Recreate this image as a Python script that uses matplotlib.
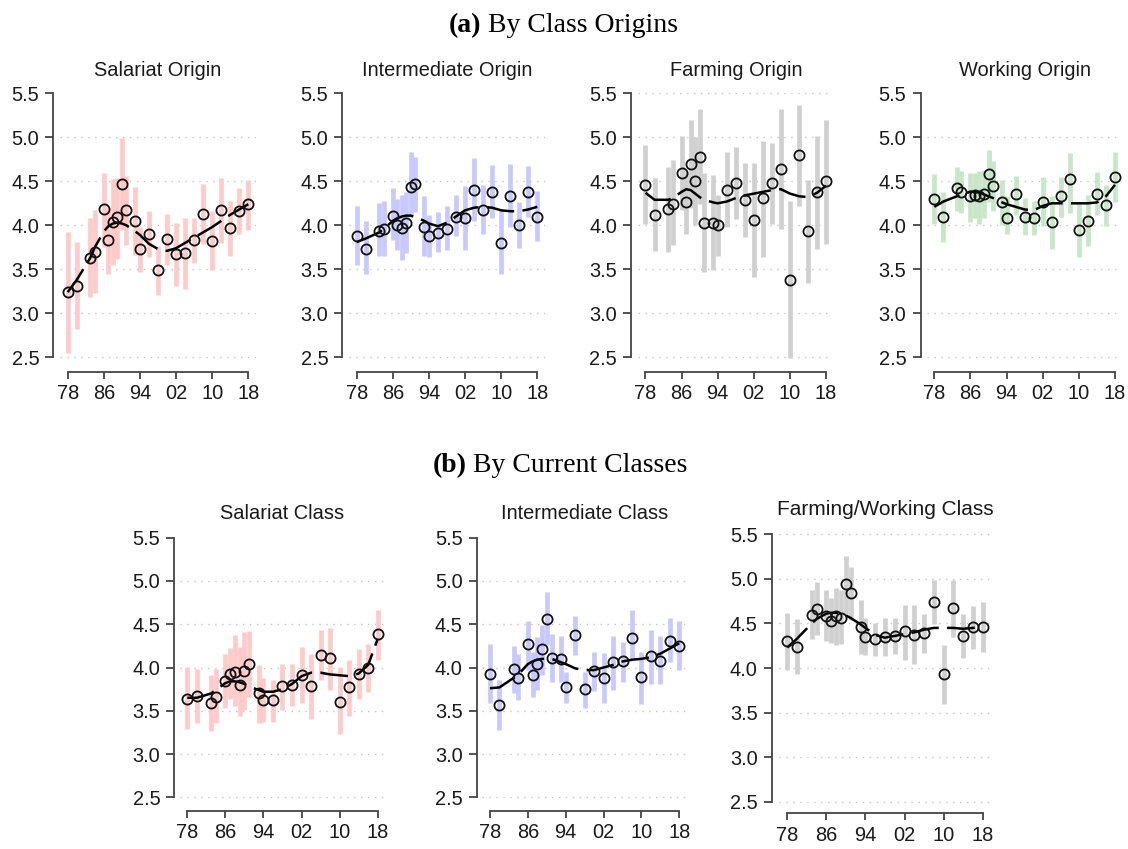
import matplotlib
matplotlib.use("Agg")
import matplotlib.pyplot as plt

plt.rcParams['font.family'] = ['Liberation Sans', 'DejaVu Sans']
plt.rcParams['lines.scale_dashes'] = False

W, H = 1128, 849

years = [1978, 1980, 1983, 1984, 1986, 1987, 1988, 1989, 1990, 1991, 1993, 1994,
         1996, 1998, 2000, 2002, 2004, 2006, 2008, 2010, 2012, 2014, 2016, 2018]
xtick_years = [1978, 1986, 1994, 2002, 2010, 2018]
xtick_labels = ['78', '86', '94', '02', '10', '18']
ytick_vals = [2.5, 3.0, 3.5, 4.0, 4.5, 5.0, 5.5]

# (a) class origins
sal_orig_mean = [3.24, 3.31, 3.63, 3.70, 4.18, 3.83, 4.04, 4.09, 4.47, 4.17, 4.05, 3.73,
                 3.90, 3.49, 3.84, 3.67, 3.68, 3.83, 4.13, 3.82, 4.17, 3.97, 4.16, 4.24]
sal_orig_lo = [2.55, 2.82, 3.18, 3.23, 3.75, 3.45, 3.55, 3.62, 3.95, 3.78, 3.66, 3.47,
               3.64, 3.21, 3.55, 3.31, 3.28, 3.57, 3.79, 3.49, 3.80, 3.65, 3.90, 3.95]
sal_orig_hi = [3.92, 3.81, 4.08, 4.17, 4.59, 4.20, 4.53, 4.54, 4.99, 4.56, 4.43, 3.98,
               4.16, 3.76, 4.13, 4.03, 4.08, 4.08, 4.47, 4.16, 4.54, 4.28, 4.42, 4.52]
sal_orig_fit = [3.24, 3.38, 3.63, 3.75, 3.93, 3.99, 4.02, 4.03, 4.02, 4.00, 3.93, 3.89,
                3.79, 3.73, 3.71, 3.74, 3.80, 3.86, 3.92, 3.98, 4.05, 4.12, 4.18, 4.24]

int_orig_mean = [3.88, 3.73, 3.94, 3.96, 4.11, 4.00, 3.97, 4.03, 4.44, 4.47, 3.98, 3.88,
                 3.91, 3.96, 4.10, 4.08, 4.40, 4.17, 4.38, 3.80, 4.33, 4.00, 4.38, 4.10]
int_orig_lo = [3.55, 3.45, 3.65, 3.65, 3.83, 3.72, 3.60, 3.68, 4.10, 4.15, 3.65, 3.64,
               3.70, 3.72, 3.88, 3.72, 4.05, 3.90, 4.08, 3.45, 3.98, 3.74, 4.10, 3.82]
int_orig_hi = [4.22, 4.05, 4.25, 4.28, 4.42, 4.30, 4.35, 4.38, 4.83, 4.78, 4.33, 4.12,
               4.15, 4.22, 4.34, 4.45, 4.76, 4.46, 4.69, 4.17, 4.70, 4.27, 4.67, 4.39]
int_orig_fit = [3.81, 3.85, 3.92, 3.96, 4.05, 4.08, 4.10, 4.11, 4.11, 4.09, 4.05, 4.02,
                3.99, 4.03, 4.10, 4.17, 4.20, 4.21, 4.20, 4.17, 4.16, 4.16, 4.18, 4.21]

farm_orig_mean = [4.46, 4.12, 4.18, 4.24, 4.60, 4.27, 4.70, 4.50, 4.78, 4.03, 4.03, 4.00,
                  4.40, 4.48, 4.29, 4.06, 4.31, 4.48, 4.64, 3.38, 4.80, 3.93, 4.38, 4.50]
farm_orig_lo = [4.02, 3.71, 3.70, 3.78, 4.17, 3.90, 4.20, 4.00, 4.24, 3.47, 3.49, 3.65,
                3.98, 4.07, 3.87, 3.41, 3.64, 4.02, 3.96, 2.49, 4.22, 3.34, 3.73, 3.79]
farm_orig_hi = [4.91, 4.54, 4.66, 4.74, 5.01, 4.62, 5.20, 5.00, 5.32, 4.59, 4.57, 4.34,
                4.83, 4.89, 4.71, 4.71, 4.96, 4.93, 5.32, 4.28, 5.37, 4.52, 5.01, 5.20]
farm_orig_fit = [4.37, 4.29, 4.29, 4.31, 4.38, 4.41, 4.40, 4.36, 4.32, 4.29, 4.26, 4.25,
                 4.27, 4.31, 4.34, 4.36, 4.38, 4.40, 4.41, 4.36, 4.33, 4.32, 4.37, 4.45]

work_orig_mean = [4.30, 4.10, 4.42, 4.38, 4.33, 4.35, 4.33, 4.36, 4.58, 4.45, 4.26, 4.08,
                  4.36, 4.10, 4.08, 4.27, 4.04, 4.33, 4.53, 3.95, 4.05, 4.36, 4.23, 4.55]
work_orig_lo = [4.01, 3.81, 4.16, 4.14, 4.04, 4.08, 4.02, 4.08, 4.27, 4.16, 4.00, 3.90,
                4.12, 3.89, 3.89, 3.99, 3.73, 4.10, 4.14, 3.64, 3.76, 4.12, 3.99, 4.27]
work_orig_hi = [4.58, 4.38, 4.66, 4.62, 4.60, 4.60, 4.62, 4.63, 4.86, 4.73, 4.52, 4.33,
                4.56, 4.31, 4.28, 4.55, 4.33, 4.55, 4.82, 4.26, 4.34, 4.61, 4.46, 4.83]
work_orig_fit = [4.21, 4.27, 4.33, 4.35, 4.38, 4.38, 4.37, 4.35, 4.33, 4.31, 4.26, 4.24,
                 4.21, 4.18, 4.17, 4.22, 4.25, 4.25, 4.25, 4.25, 4.25, 4.26, 4.33, 4.46]

# (b) current classes
sal_cur_mean = [3.64, 3.67, 3.59, 3.66, 3.84, 3.93, 3.95, 3.80, 3.96, 4.04, 3.70, 3.62,
                 3.62, 3.79, 3.80, 3.91, 3.79, 4.14, 4.11, 3.60, 3.78, 3.92, 3.99, 4.39]
sal_cur_lo = [3.29, 3.36, 3.27, 3.36, 3.53, 3.64, 3.55, 3.44, 3.51, 3.66, 3.36, 3.37,
              3.37, 3.51, 3.56, 3.59, 3.41, 3.86, 3.74, 3.23, 3.44, 3.64, 3.72, 4.09]
sal_cur_hi = [4.01, 3.98, 3.91, 3.98, 4.16, 4.22, 4.37, 4.24, 4.41, 4.42, 4.03, 3.88,
              3.86, 4.04, 4.04, 4.24, 4.16, 4.43, 4.46, 4.01, 4.09, 4.21, 4.27, 4.66]
sal_cur_fit = [3.65, 3.65, 3.70, 3.74, 3.82, 3.84, 3.84, 3.83, 3.81, 3.78, 3.74, 3.72,
               3.72, 3.75, 3.81, 3.90, 3.94, 3.94, 3.92, 3.91, 3.90, 3.93, 4.03, 4.33]

int_cur_mean = [3.93, 3.57, 3.98, 3.88, 4.27, 3.91, 4.04, 4.21, 4.56, 4.11, 4.10, 3.78,
                4.38, 3.75, 3.96, 3.88, 4.06, 4.08, 4.34, 3.89, 4.13, 4.08, 4.31, 4.25]
int_cur_lo = [3.59, 3.28, 3.71, 3.62, 3.97, 3.66, 3.74, 3.91, 4.26, 3.83, 3.83, 3.59,
              4.14, 3.53, 3.73, 3.59, 3.74, 3.83, 4.09, 3.58, 3.81, 3.81, 4.06, 3.97]
int_cur_hi = [4.27, 3.86, 4.25, 4.16, 4.54, 4.18, 4.35, 4.49, 4.87, 4.39, 4.36, 3.95,
              4.59, 3.95, 4.18, 4.17, 4.36, 4.30, 4.66, 4.18, 4.43, 4.36, 4.57, 4.54]
int_cur_fit = [3.76, 3.77, 3.88, 3.92, 4.04, 4.07, 4.09, 4.10, 4.10, 4.10, 4.06, 4.04,
               3.99, 3.97, 3.97, 4.00, 4.03, 4.07, 4.09, 4.10, 4.12, 4.16, 4.22, 4.28]

fw_cur_mean = [4.30, 4.24, 4.60, 4.66, 4.58, 4.53, 4.58, 4.56, 4.94, 4.84, 4.46, 4.35,
               4.32, 4.35, 4.36, 4.41, 4.37, 4.39, 4.74, 3.93, 4.67, 4.36, 4.46, 4.46]
fw_cur_lo = [3.98, 3.93, 4.33, 4.37, 4.30, 4.28, 4.26, 4.27, 4.61, 4.54, 4.16, 4.15,
             4.13, 4.14, 4.16, 4.09, 4.05, 4.17, 4.49, 3.60, 4.35, 4.11, 4.21, 4.18]
fw_cur_hi = [4.62, 4.55, 4.88, 4.96, 4.88, 4.79, 4.90, 4.87, 5.26, 5.13, 4.76, 4.56,
             4.51, 4.56, 4.56, 4.71, 4.71, 4.61, 4.99, 4.26, 4.99, 4.61, 4.70, 4.74]
fw_cur_fit = [4.23, 4.33, 4.50, 4.55, 4.61, 4.62, 4.62, 4.61, 4.59, 4.56, 4.49, 4.45,
              4.37, 4.34, 4.36, 4.38, 4.40, 4.43, 4.45, 4.45, 4.45, 4.44, 4.45, 4.46]

PINK, BLUE, GRAY, GREEN = '#ffcaca', '#c9c9ff', '#d0d0d0', '#c8e6c8'

# title, data, bar colour, pixel layout (x of 78, x of 18, y of 5.5, y of 2.5, y-axis x, x-axis y, title baseline)
panels = [
    ("Salariat Origin", sal_orig_mean, sal_orig_lo, sal_orig_hi, sal_orig_fit, PINK,
     (67.7, 248.3, 93.3, 357.3, 53.3, 371.7, 76), False),
    ("Intermediate Origin", int_orig_mean, int_orig_lo, int_orig_hi, int_orig_fit, BLUE,
     (356.7, 537.3, 93.3, 357.3, 342.3, 371.7, 76), False),
    ("Farming Origin", farm_orig_mean, farm_orig_lo, farm_orig_hi, farm_orig_fit, GRAY,
     (645.5, 826.1, 93.3, 357.3, 631.1, 371.7, 76), True),
    ("Working Origin", work_orig_mean, work_orig_lo, work_orig_hi, work_orig_fit, GREEN,
     (934.3, 1115.0, 93.3, 357.3, 920.5, 371.7, 76), False),
    ("Salariat Class", sal_cur_mean, sal_cur_lo, sal_cur_hi, sal_cur_fit, PINK,
     (187.3, 377.7, 537.7, 797.3, 174.3, 811.0, 519.3), False),
    ("Intermediate Class", int_cur_mean, int_cur_lo, int_cur_hi, int_cur_fit, BLUE,
     (490.0, 679.3, 537.7, 797.3, 476.7, 811.0, 519.3), False),
    ("Farming/Working Class", fw_cur_mean, fw_cur_lo, fw_cur_hi, fw_cur_fit, GRAY,
     (787.3, 982.7, 534.3, 801.7, 771.7, 813.3, 515.0), True),
]

fig = plt.figure(figsize=(W / 100, H / 100), dpi=100)

for title, mean, lo, hi, fit, col, lay, top_grid in panels:
    x78, x18, y55, y25, yax, xax, tb = lay
    ppy = (x18 - x78) / 40.0
    ppu = (y25 - y55) / 3.0
    left, right = x78 - 1.6 * ppy, x18 + 1.6 * ppy
    top, bottom = y55 - 0.12 * ppu, y25 + 0.12 * ppu
    ax = fig.add_axes([left / W, 1 - bottom / H, (right - left) / W, (bottom - top) / H])
    ax.set_xlim(1976.4, 2019.6)
    ax.set_ylim(2.38, 5.62)

    grid = ytick_vals if top_grid else ytick_vals[:-1]
    for g in grid:
        ax.axhline(g, color='#c4c4c4', lw=1, linestyle=(0, (1, 4)), zorder=0)

    ax.vlines(years, lo, hi, color=col, lw=3.4, zorder=1)
    ax.plot(years, fit, color='black', lw=1.8, dashes=(20, 6), zorder=2)
    ax.plot(years, mean, 'o', mfc='none', mec='#111111', ms=7.3, mew=1.3, zorder=3)

    for s in ['top', 'right']:
        ax.spines[s].set_visible(False)
    ax.spines['left'].set_position(('outward', (left - yax) * 0.72))
    ax.spines['bottom'].set_position(('outward', (xax - bottom) * 0.72))
    ax.spines['left'].set_bounds(2.5, 5.5)
    ax.spines['bottom'].set_bounds(1978, 2018)
    for s in ['left', 'bottom']:
        ax.spines[s].set_color('#444444')
        ax.spines[s].set_linewidth(1.3)

    ax.set_yticks(ytick_vals)
    ax.set_yticklabels(['%.1f' % v for v in ytick_vals])
    ax.set_xticks(xtick_years)
    ax.set_xticklabels(xtick_labels)
    ax.tick_params(axis='y', direction='out', length=5.5, width=1.3, pad=4.6,
                   labelsize=14.4, color='#444444', labelcolor='#1a1a1a')
    ax.tick_params(axis='x', direction='out', length=5.3, width=1.3, pad=3.5,
                   labelsize=14.4, color='#444444', labelcolor='#1a1a1a')

    fs = 15 if title.startswith('Farming/') else 14.4
    fig.text((left + right) / 2 / W, 1 - tb / H, title, ha='center', va='baseline',
             fontsize=fs, color='#1a1a1a')

serif = ['Liberation Serif', 'DejaVu Serif']
fig.text(481.7 / W, 1 - 31.7 / H, '(a)', ha='right', va='baseline', fontsize=20,
         fontweight='bold', family=serif)
fig.text(488.3 / W, 1 - 31.7 / H, 'By Class Origins', ha='left', va='baseline',
         fontsize=20, family=serif)
fig.text(466.7 / W, 1 - 471.7 / H, '(b)', ha='right', va='baseline', fontsize=20,
         fontweight='bold', family=serif)
fig.text(473.3 / W, 1 - 471.7 / H, 'By Current Classes', ha='left', va='baseline',
         fontsize=20, family=serif)

fig.savefig('out.png', dpi=100)
